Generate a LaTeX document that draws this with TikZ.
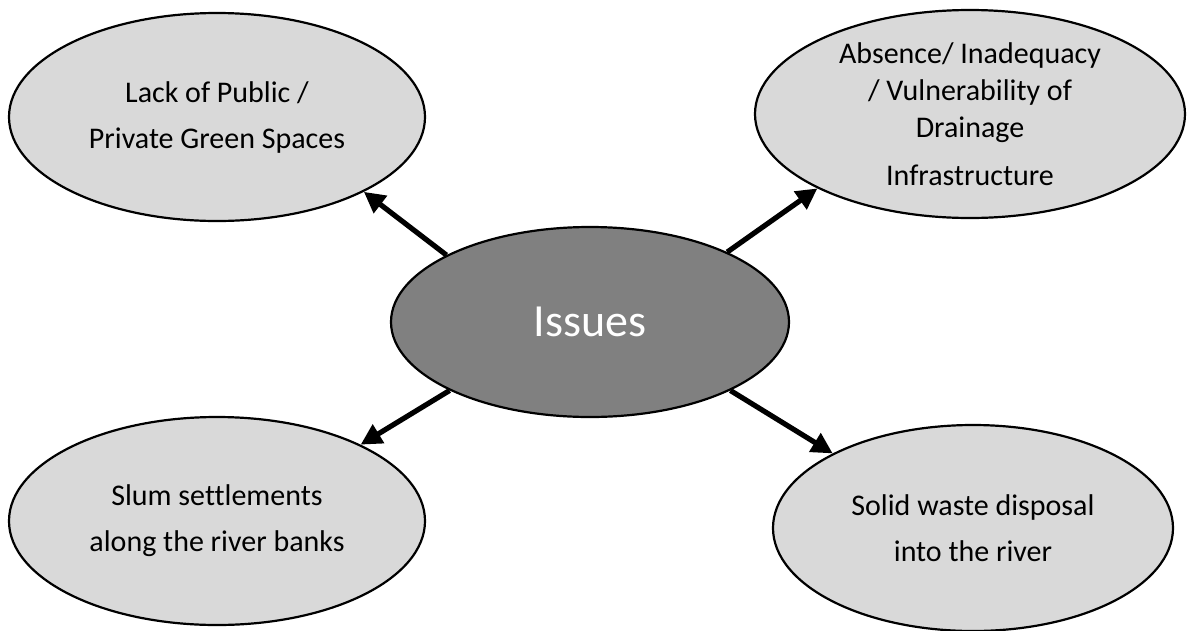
\documentclass[tikz,border=0pt]{standalone}
\usepackage{fontspec}
\setmainfont[Ligatures=NoCommon]{Carlito}
\usetikzlibrary{shapes.geometric,arrows.meta}
\begin{document}
\begin{tikzpicture}[
        x=1pt, y=-1pt,
        lightn/.style={fill=black!15, minimum width=416pt, minimum height=208pt},
        darkn/.style={fill=black!50, text=white, font=\fontsize{46}{55}\selectfont, minimum width=398pt, minimum height=190pt},
        every node/.style={draw, ellipse, line width=2.2pt, inner sep=0pt, align=center, font=\fontsize{30}{46}\selectfont},
        arr/.style={line width=5.2pt, -{Triangle[length=21pt,width=21pt]}},
    ]
    \useasboundingbox (0,0) rectangle (1187,630);
    \node[darkn](issues) at (590,322){Issues};
    \node[lightn](green) at (217,117){Lack of Public /\\Private Green Spaces};
    \node[lightn, minimum width=430pt, font=\fontsize{30}{37}\selectfont](drainage) at (970,114){Absence/ Inadequacy\\/ Vulnerability of\\Drainage\\[11pt]Infrastructure};
    \node[lightn](slum) at (217,521){Slum settlements\\along the river banks};
    \node[lightn, minimum width=400pt, minimum height=206pt](waste) at (973,528){Solid waste disposal\\into the river};
    \draw[arr] (issues.155) -- (green.-27);
    \draw[arr] (issues.27) -- (drainage.-154);
    \draw[arr] (issues.206) -- (slum.28);
    \draw[arr] (issues.-26) -- (waste.152);
\end{tikzpicture}
\end{document}
